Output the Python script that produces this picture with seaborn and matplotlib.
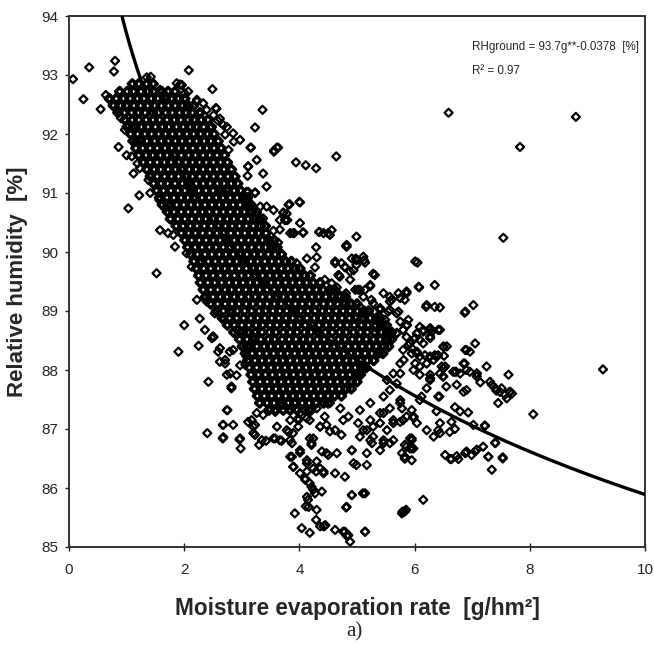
import numpy as np
import pandas as pd
import matplotlib
matplotlib.use("Agg")
import matplotlib.pyplot as plt
import seaborn as sns

# ---------------- data ----------------
# dense core of the cloud: one RH level per row, with the g values on that row
core_rh = [92.85, 92.72, 92.6, 92.48, 92.36, 92.24, 92.12, 92.0, 91.88, 91.76,
           91.64, 91.52, 91.4, 91.28, 91.16, 91.04, 90.92, 90.8, 90.68, 90.56,
           90.44, 90.32, 90.2, 90.08, 89.96, 89.84, 89.72, 89.6, 89.48, 89.36,
           89.24, 89.12, 89.0, 88.88, 88.76, 88.64, 88.52, 88.4, 88.28, 88.16,
           88.04, 87.92, 87.8, 87.68, 87.56, 87.44, 87.32]
core_g = [
    [1.1, 1.21, 1.35, 1.46],
    [0.88, 1.01, 1.12, 1.25, 1.37, 1.47, 1.61, 1.72, 1.84],
    [0.7, 0.82, 0.95, 1.06, 1.19, 1.3, 1.43, 1.54, 1.67, 1.78, 1.9, 2.01],
    [0.77, 0.9, 1.0, 1.13, 1.24, 1.37, 1.49, 1.6, 1.73, 1.84, 1.97, 2.07, 2.16],
    [0.85, 0.96, 1.09, 1.2, 1.32, 1.45, 1.55, 1.68, 1.79, 1.92, 2.03, 2.14, 2.27],
    [0.97, 1.1, 1.21, 1.34, 1.46, 1.57, 1.7, 1.83, 1.94, 2.07, 2.17, 2.3, 2.41],
    [1.01, 1.14, 1.26, 1.37, 1.5, 1.62, 1.73, 1.87, 1.98, 2.11, 2.21, 2.34, 2.47],
    [1.07, 1.19, 1.32, 1.43, 1.56, 1.67, 1.8, 1.91, 2.05, 2.16, 2.29, 2.4, 2.52],
    [1.11, 1.24, 1.35, 1.49, 1.6, 1.72, 1.85, 1.96, 2.1, 2.21, 2.35, 2.46, 2.59],
    [1.16, 1.28, 1.41, 1.53, 1.67, 1.78, 1.91, 2.02, 2.15, 2.28, 2.39, 2.52, 2.64],
    [1.21, 1.34, 1.45, 1.59, 1.7, 1.83, 1.95, 2.08, 2.19, 2.33, 2.44, 2.57, 2.7],
    [1.29, 1.41, 1.53, 1.66, 1.77, 1.9, 2.03, 2.14, 2.27, 2.38, 2.51, 2.63, 2.75],
    [1.35, 1.48, 1.59, 1.72, 1.85, 1.96, 2.09, 2.2, 2.33, 2.45, 2.57, 2.69, 2.82],
    [1.41, 1.53, 1.66, 1.78, 1.9, 2.03, 2.14, 2.27, 2.39, 2.51, 2.63, 2.76, 2.88],
    [1.47, 1.6, 1.71, 1.84, 1.97, 2.08, 2.21, 2.33, 2.45, 2.58, 2.69, 2.82, 2.93],
    [1.52, 1.64, 1.77, 1.89, 2.01, 2.14, 2.25, 2.38, 2.5, 2.63, 2.74, 2.87, 2.98],
    [1.57, 1.7, 1.82, 1.95, 2.06, 2.19, 2.31, 2.43, 2.56, 2.67, 2.8, 2.92, 3.04, 3.1],
    [1.62, 1.75, 1.87, 1.99, 2.12, 2.23, 2.36, 2.48, 2.61, 2.72, 2.85, 2.97, 3.09, 3.16],
    [1.71, 1.82, 1.95, 2.07, 2.19, 2.32, 2.43, 2.56, 2.68, 2.8, 2.93, 3.04, 3.17, 3.25],
    [1.76, 1.89, 2.01, 2.13, 2.26, 2.37, 2.5, 2.62, 2.75, 2.86, 2.99, 3.11, 3.22, 3.31],
    [1.86, 1.98, 2.11, 2.22, 2.35, 2.47, 2.59, 2.72, 2.83, 2.96, 3.08, 3.2, 3.32, 3.41],
    [1.95, 2.08, 2.19, 2.32, 2.44, 2.57, 2.68, 2.81, 2.93, 3.05, 3.18, 3.29, 3.42],
    [2.01, 2.13, 2.26, 2.38, 2.51, 2.62, 2.75, 2.87, 2.99, 3.12, 3.23, 3.36, 3.47, 3.56],
    [2.06, 2.19, 2.31, 2.44, 2.55, 2.68, 2.8, 2.93, 3.05, 3.17, 3.3, 3.41, 3.53, 3.61],
    [2.11, 2.23, 2.36, 2.48, 2.61, 2.72, 2.85, 2.97, 3.09, 3.22, 3.33, 3.46, 3.58, 3.69],
    [2.17, 2.29, 2.42, 2.54, 2.66, 2.79, 2.91, 3.03, 3.16, 3.27, 3.4, 3.52, 3.64, 3.76, 3.86],
    [2.21, 2.34, 2.46, 2.59, 2.7, 2.83, 2.95, 3.08, 3.2, 3.31, 3.44, 3.56, 3.69, 3.8, 3.92, 4.01],
    [2.25, 2.38, 2.5, 2.63, 2.75, 2.87, 3.0, 3.11, 3.24, 3.36, 3.49, 3.6, 3.73, 3.85, 3.97, 4.09, 4.19],
    [2.28, 2.41, 2.53, 2.65, 2.78, 2.9, 3.02, 3.15, 3.26, 3.39, 3.51, 3.63, 3.76, 3.88, 4.0, 4.13, 4.24, 4.36],
    [2.33, 2.46, 2.58, 2.71, 2.82, 2.95, 3.07, 3.2, 3.31, 3.44, 3.56, 3.69, 3.8, 3.93, 4.05, 4.17, 4.3, 4.41, 4.53, 4.61],
    [2.37, 2.5, 2.63, 2.74, 2.87, 2.99, 3.12, 3.23, 3.36, 3.48, 3.61, 3.72, 3.85, 3.97, 4.09, 4.22, 4.33, 4.46, 4.58, 4.7, 4.8],
    [2.46, 2.58, 2.71, 2.83, 2.95, 3.08, 3.19, 3.32, 3.44, 3.57, 3.68, 3.81, 3.93, 4.05, 4.18, 4.29, 4.42, 4.54, 4.66, 4.79, 4.9, 5.0],
    [2.56, 2.68, 2.81, 2.92, 3.05, 3.17, 3.3, 3.41, 3.54, 3.66, 3.78, 3.91, 4.02, 4.15, 4.27, 4.4, 4.51, 4.64, 4.76, 4.88, 5.01, 5.12, 5.2],
    [2.66, 2.79, 2.91, 3.03, 3.16, 3.27, 3.4, 3.52, 3.64, 3.77, 3.88, 4.01, 4.13, 4.26, 4.37, 4.5, 4.62, 4.74, 4.87, 4.98, 5.11, 5.23, 5.34, 5.41],
    [2.75, 2.87, 3.0, 3.12, 3.25, 3.36, 3.49, 3.61, 3.73, 3.86, 3.97, 4.1, 4.22, 4.34, 4.47, 4.58, 4.71, 4.83, 4.95, 5.08, 5.19, 5.32, 5.43, 5.51],
    [2.86, 2.98, 3.11, 3.23, 3.35, 3.48, 3.59, 3.72, 3.84, 3.96, 4.09, 4.2, 4.33, 4.45, 4.57, 4.7, 4.81, 4.94, 5.06, 5.18, 5.31, 5.42, 5.53, 5.6],
    [2.96, 3.09, 3.21, 3.33, 3.46, 3.57, 3.7, 3.82, 3.94, 4.07, 4.18, 4.31, 4.43, 4.55, 4.68, 4.79, 4.92, 5.04, 5.16, 5.29, 5.4, 5.52, 5.6],
    [3.01, 3.14, 3.26, 3.39, 3.5, 3.63, 3.75, 3.87, 4.0, 4.11, 4.24, 4.36, 4.48, 4.61, 4.72, 4.85, 4.97, 5.09, 5.22, 5.33, 5.46, 5.55],
    [3.06, 3.18, 3.31, 3.43, 3.55, 3.68, 3.79, 3.92, 4.04, 4.16, 4.29, 4.4, 4.53, 4.65, 4.77, 4.9, 5.01, 5.14, 5.26, 5.37, 5.45],
    [3.1, 3.23, 3.35, 3.47, 3.6, 3.71, 3.84, 3.96, 4.08, 4.21, 4.32, 4.45, 4.57, 4.69, 4.82, 4.93, 5.06, 5.18, 5.29],
    [3.13, 3.26, 3.38, 3.51, 3.62, 3.75, 3.87, 3.99, 4.12, 4.23, 4.36, 4.48, 4.6, 4.73, 4.84, 4.97, 5.08, 5.16],
    [3.16, 3.29, 3.41, 3.53, 3.66, 3.77, 3.9, 4.02, 4.14, 4.27, 4.38, 4.51, 4.63, 4.75, 4.88, 4.99, 5.06],
    [3.19, 3.32, 3.44, 3.57, 3.68, 3.81, 3.93, 4.05, 4.18, 4.29, 4.42, 4.54, 4.66, 4.79, 4.9, 5.0],
    [3.22, 3.35, 3.47, 3.59, 3.72, 3.83, 3.96, 4.08, 4.2, 4.33, 4.44, 4.57, 4.69, 4.81, 4.9],
    [3.27, 3.39, 3.52, 3.64, 3.76, 3.89, 4.0, 4.13, 4.25, 4.37, 4.5, 4.61, 4.73],
    [3.31, 3.44, 3.56, 3.68, 3.81, 3.92, 4.05, 4.17, 4.29, 4.42, 4.5],
    [3.47, 3.59, 3.72, 3.84, 3.96, 4.09, 4.2],
]

# upper / left edge of the cloud
upper_g = [0.07, 0.25, 0.35, 0.55, 0.80, 0.78, 0.64, 0.71, 0.76, 1.03, 1.22, 1.52, 2.08, 2.49,
           3.36, 3.23, 3.16, 3.56, 3.63, 3.94, 4.11, 4.29, 4.0, 3.81, 4.34, 4.50, 4.29, 4.06,
           3.91, 3.08, 3.23, 1.42, 1.93, 2.07, 2.22, 2.55, 2.29, 2.45, 2.58, 2.68, 2.71, 3.15,
           3.61, 3.56, 2.86, 2.77, 3.11, 3.10, 3.43, 3.26, 3.72, 3.75, 4.01, 3.37,
           0.83, 0.90, 0.86, 1.00, 1.12, 1.23, 0.97, 1.09, 1.17, 1.09, 1.19, 1.38, 1.46, 1.41,
           1.57, 1.70, 1.67, 1.58, 1.72, 1.81, 1.84, 2.04, 2.13, 2.27, 2.22, 2.39, 2.27, 2.36,
           2.51, 1.35, 1.58, 1.70, 1.87, 1.96, 2.01, 2.22, 2.33, 2.39, 2.51, 2.56, 2.62, 2.74,
           2.85, 2.97, 3.11, 3.26, 3.37, 3.43, 3.32, 3.55, 3.66, 3.78, 3.84,
           2.68, 3.11, 3.23, 3.83, 4.01, 3.72, 3.79, 4.35, 4.07, 3.55, 3.66, 3.89, 3.49, 3.63,
           4.82, 4.99, 5.12, 5.28, 4.62, 4.79, 4.68, 4.30, 4.13, 4.27, 4.01, 3.95, 4.44, 4.65,
           4.81, 4.97, 5.14, 5.05, 5.28, 4.97, 5.14, 5.31, 5.31, 4.62, 4.82,
           2.36, 2.50, 2.62, 2.79, 2.91, 3.08, 3.20, 3.03, 2.53, 2.68, 2.82]
upper_rh = [92.93, 92.59, 93.13, 92.42, 93.24, 93.06, 92.66, 92.58, 92.50, 90.74, 90.96, 89.64, 93.08, 92.76,
            92.41, 92.11, 91.77, 91.72, 91.77, 91.52, 91.47, 91.42, 90.85, 90.80, 90.34, 90.32, 90.08, 90.33,
            90.32, 91.02, 91.00, 92.97, 92.84, 92.72, 92.55, 92.44, 92.36, 92.10, 92.23, 92.15, 91.99, 91.77,
            91.77, 91.70, 91.87, 91.73, 91.45, 91.29, 90.77, 90.66, 90.66, 90.54, 90.49, 90.57,
            92.41, 92.27, 91.78, 91.64, 91.33, 91.42, 92.07, 92.10, 91.87, 91.62, 91.50, 91.22, 91.16, 91.00,
            90.88, 90.82, 90.74, 90.37, 90.32, 90.29, 90.09, 89.98, 89.75, 89.81, 89.19, 89.16, 88.87, 88.68,
            88.56, 92.96, 92.75, 92.63, 92.86, 92.83, 92.69, 92.58, 92.52, 92.41, 92.32, 92.43, 92.26, 92.12,
            92.01, 91.90, 91.45, 91.56, 91.33, 91.11, 90.77, 90.71, 90.54, 90.65, 90.32,
            91.02, 91.02, 91.01, 90.81, 90.84, 90.67, 90.54, 90.34, 90.33, 90.36, 90.38, 90.32, 90.15, 90.16,
            90.12, 89.86, 89.86, 89.63, 89.84, 89.74, 89.61, 89.91, 89.89, 89.74, 89.72, 89.81, 89.53, 89.40,
            89.30, 89.36, 89.36, 89.07, 89.13, 88.91, 88.93, 88.99, 88.73, 89.19, 89.07,
            89.21, 88.57, 88.37, 88.31, 88.68, 88.40, 88.57, 88.65, 88.96, 88.85, 88.96]

# right part of the cloud and outliers
right_g = [6.59, 8.80, 7.83, 4.64, 7.54, 6.01, 6.05, 4.99, 4.82, 4.42, 4.56, 4.73, 4.91, 5.11, 4.99, 4.94,
           5.31, 5.23, 5.46, 5.57, 5.72, 5.86, 5.83, 6.07, 6.35, 6.21, 6.35, 6.88, 7.02, 5.69, 5.54, 5.49,
           5.75, 5.89, 6.09, 6.27, 5.80, 5.40, 5.25, 5.05, 4.88, 4.70, 4.56,
           4.81, 4.53, 4.62, 4.79, 4.98, 5.14, 4.88, 4.68, 5.23, 6.08, 5.86, 5.75, 5.57, 5.60, 5.11, 5.02,
           4.70, 6.20, 6.44, 6.87, 5.87, 5.40, 5.57, 5.72, 5.69, 6.04, 6.15, 6.27, 6.44, 6.01, 6.27, 6.15,
           6.50, 6.35, 6.27, 6.04, 5.95, 6.90, 7.05, 6.96, 6.87, 7.25, 7.63, 7.08, 6.70, 6.53, 6.44, 6.27,
           6.09, 5.98,
           9.27, 8.06, 6.15, 5.79, 5.85, 5.14, 4.88, 4.82, 4.76, 4.62, 4.44, 5.10, 4.91, 4.81, 7.34, 7.53,
           7.28, 7.40, 7.19, 7.08, 6.90, 6.73, 6.62, 6.53, 6.99, 7.05, 5.95, 7.22,
           7.08, 6.90, 6.85, 6.88, 6.72, 6.73, 6.85, 6.90, 6.55, 6.49, 6.50, 6.51, 6.41, 6.56, 6.33, 6.21,
           6.09, 6.21, 6.27, 6.41, 6.70, 7.34, 7.42, 7.51, 7.57, 7.65, 7.69,
           5.86, 5.69, 5.86, 6.04, 6.15, 6.30, 6.41, 6.27, 6.09, 5.92, 5.95, 6.09, 5.80, 5.75, 5.63, 5.75,
           5.52, 5.69, 5.57, 5.46, 5.75, 5.78, 5.98, 5.80, 5.63, 5.46, 5.40, 5.52, 5.23, 5.28, 5.11, 5.05,
           5.23, 5.46, 5.57, 5.86, 5.92, 5.83, 5.95, 4.91, 5.17, 4.94, 4.62, 4.79, 4.42, 4.50, 4.65,
           6.79, 6.93, 6.64, 6.70, 6.44, 6.41,
           6.67, 6.79, 6.96, 7.08, 7.14, 7.31, 7.40, 7.48, 7.66, 7.60, 7.45, 7.02, 7.22, 7.40, 6.64, 6.76,
           6.88, 7.28, 7.53, 6.50, 6.38, 6.18, 6.04, 5.89, 5.81, 6.01, 6.27, 6.50, 6.47, 6.12, 6.38, 6.61,
           6.44, 6.21, 6.33, 5.92, 5.83, 5.98, 5.83, 5.98, 6.43]
right_rh = [92.36, 92.29, 91.78, 91.62, 90.24, 89.84, 89.82, 90.26, 90.09, 90.32, 90.37, 89.81, 89.89, 89.92, 89.78, 89.69,
            89.61, 89.44, 89.30, 89.16, 89.30, 89.30, 89.19, 89.41, 89.44, 89.10, 89.07, 88.99, 89.10, 88.96, 88.99, 88.85,
            88.82, 88.85, 88.73, 88.71, 88.68, 89.05, 89.19, 89.36, 89.53, 89.58, 89.47,
            90.10, 90.29, 89.81, 89.75, 89.89, 89.82, 89.67, 89.61, 89.42, 89.40, 89.33, 89.22, 89.24, 89.19, 89.24, 89.36,
            89.27, 89.07, 89.06, 88.97, 88.76, 89.02, 89.02, 88.99, 88.63, 88.62, 88.65, 88.68, 88.68, 88.54, 88.57, 88.45,
            88.39, 88.25, 88.23, 88.31, 88.37, 88.34, 88.45, 88.31, 88.11, 88.06, 87.92, 87.94, 87.97, 88.06, 87.94, 87.92,
            87.92, 88.00,
            88.01, 87.25, 85.80, 85.60, 85.63, 85.26, 85.09, 85.19, 85.26, 85.29, 85.36, 85.91, 85.88, 85.67, 86.31, 86.52,
            86.53, 86.77, 86.70, 86.65, 86.62, 86.54, 86.49, 86.56, 86.56, 86.62, 86.47, 87.05,
            87.94, 88.00, 88.11, 88.34, 87.97, 87.75, 87.63, 87.66, 87.72, 87.89, 88.03, 88.24, 88.25, 88.40, 88.17, 88.11,
            88.06, 87.69, 87.86, 87.55, 87.37, 87.75, 87.65, 87.69, 87.58, 87.63, 87.60,
            88.76, 88.62, 88.56, 88.62, 88.68, 88.65, 88.68, 88.54, 88.51, 88.45, 88.28, 88.23, 88.34, 88.11, 87.94, 87.94,
            87.83, 87.77, 87.66, 87.55, 87.49, 87.35, 87.21, 87.15, 87.15, 87.27, 87.10, 86.98, 87.15, 87.04, 86.98, 86.87,
            86.81, 86.76, 86.76, 86.70, 86.67, 86.53, 86.81, 86.64, 86.59, 86.42, 86.25, 86.19, 86.25, 86.56, 86.59,
            87.30, 87.28, 87.12, 87.00, 87.10, 86.98,
            87.97, 87.94, 87.97, 87.89, 87.79, 87.80, 87.69, 87.63, 87.63, 87.52, 87.44, 87.07, 87.06, 86.76, 86.49, 86.49,
            86.59, 86.53, 86.50, 88.40, 88.23, 88.25, 88.28, 88.42, 88.17, 88.11, 87.83, 87.89, 88.06, 87.55, 87.30, 86.95,
            86.93, 86.98, 86.87, 86.84, 86.73, 86.67, 86.50, 87.19, 87.55]

# lower part of the cloud
lower_g = [2.00, 1.90, 2.25, 2.42, 2.40, 2.67, 2.67, 2.85, 2.75, 2.96, 2.98, 2.82, 2.48, 2.59, 2.71, 2.62,
           2.80, 2.91, 2.97, 2.85, 3.08, 3.11, 3.20, 3.23, 3.30, 3.42, 3.58, 3.69, 3.78, 3.84, 3.89, 3.98,
           4.18, 4.36, 4.44, 4.24, 4.21, 4.39, 4.47, 3.87, 3.89, 4.01, 4.13, 4.24, 4.10, 4.21, 4.29, 4.42,
           4.13, 4.27, 4.39, 3.92, 4.04, 4.18, 4.11, 4.30, 4.42, 4.29, 4.15,
           2.71, 2.82, 2.74, 2.68, 2.68, 2.97, 2.74, 3.06, 3.23, 3.20, 3.35, 3.55, 3.66, 3.84, 3.98, 3.81,
           3.61, 3.87, 4.01, 4.18, 4.21, 3.84, 3.90, 4.01, 4.13, 4.30, 4.36, 4.10, 4.18, 4.24, 4.13, 4.16,
           4.36, 4.45, 4.79, 4.85, 4.82, 4.91, 5.14, 5.14,
           4.36, 4.47, 4.53, 4.62, 4.76, 4.73, 4.91, 4.99, 5.17, 5.02, 5.17, 5.28, 5.26, 5.40, 5.46, 5.63,
           5.75, 5.63, 5.86, 5.98, 5.95, 5.83, 5.95, 5.78, 6.04, 5.83, 5.78,
           3.17, 3.26, 3.37, 3.49, 3.58, 3.72, 3.87, 4.01, 4.16, 4.30, 3.98, 4.13, 4.53, 4.71, 4.85, 5.05,
           5.23, 5.40, 5.57, 5.75, 5.95, 6.09]
lower_rh = [88.76, 88.31, 88.41, 87.80, 86.93, 86.84, 87.07, 87.07, 87.32, 86.82, 86.67, 87.69, 88.54, 88.31, 88.17, 88.14,
            87.94, 87.91, 88.08, 88.34, 88.23, 87.12, 87.04, 86.90, 86.73, 86.80, 86.84, 86.80, 86.98, 87.15, 86.93, 87.04,
            87.15, 87.04, 87.21, 86.84, 86.76, 86.62, 86.59, 86.53, 86.36, 86.60, 86.47, 86.33, 86.14, 86.02, 86.28, 86.28,
            86.28, 85.91, 85.94, 85.57, 85.32, 85.24, 85.69, 85.63, 85.35, 85.46, 85.80,
            88.11, 87.72, 87.32, 87.07, 86.86, 86.84, 87.92, 88.09, 87.07, 86.93, 86.81, 86.84, 86.81, 86.81, 87.18, 86.95,
            87.04, 86.76, 86.64, 86.84, 86.73, 86.53, 86.36, 86.25, 86.42, 86.45, 86.33, 86.16, 86.08, 85.97, 85.85, 85.68,
            85.35, 85.37, 85.26, 85.20, 85.68, 85.88, 85.91, 85.26,
            87.04, 87.07, 86.96, 86.98, 87.15, 86.90, 86.64, 86.39, 86.39, 87.10, 86.98, 86.87, 86.76, 86.64, 86.81, 86.81,
            87.12, 87.10, 87.21, 87.21, 86.84, 86.50, 86.67, 86.59, 87.10, 85.60, 85.57,
            87.15, 87.27, 87.24, 87.35, 87.29, 87.41, 87.38, 87.27, 87.32, 87.35, 87.15, 87.18, 87.44, 87.35, 87.21, 87.32,
            87.44, 87.27, 87.35, 87.44, 87.32, 87.49]

# fitted curve printed on the chart: RH = a * g ** b
fit_a = 93.7
fit_b = -0.0378
fit_g_range = [0.9, 10.0]

x_ticks = [0, 2, 4, 6, 8, 10]
y_ticks = [85, 86, 87, 88, 89, 90, 91, 92, 93, 94]

# ---------------- build tables ----------------
core_gv, core_rv = [], []
for rh, gs in zip(core_rh, core_g):
    core_gv += gs
    core_rv += [rh] * len(gs)
core_df = pd.DataFrame({"g": core_gv, "rh": core_rv})
edge_df = pd.DataFrame({"g": upper_g + right_g + lower_g,
                        "rh": upper_rh + right_rh + lower_rh})

curve_g = np.linspace(fit_g_range[0], fit_g_range[1], 400)
curve = pd.DataFrame({"g": curve_g, "rh": fit_a * curve_g ** fit_b})

# ---------------- plot ----------------
sns.set_style("ticks")
plt.rcParams["font.family"] = ["Liberation Sans", "DejaVu Sans"]

fig = plt.figure(figsize=(6.54, 6.64), dpi=100)
ax = fig.add_axes([69 / 654, 1 - 547 / 664, 576 / 654, 531 / 664])

sns.scatterplot(data=core_df, x="g", y="rh", ax=ax, marker="D", s=17,
                color="black", facecolor="none", edgecolor="black",
                linewidth=2.5, legend=False, zorder=2)
sns.scatterplot(data=edge_df, x="g", y="rh", ax=ax, marker="D", s=17,
                color="black", facecolor="none", edgecolor="black",
                linewidth=1.6, legend=False, zorder=2)
sns.lineplot(data=curve, x="g", y="rh", ax=ax, color="black", linewidth=2.4,
             legend=False, zorder=3)

ax.set_xlim(0, 10)
ax.set_ylim(85, 94)
ax.set_xticks(x_ticks)
ax.set_yticks(y_ticks)
ax.tick_params(axis="y", direction="out", length=3, width=1, pad=4.5,
               labelsize=11, color="#222222")
ax.tick_params(axis="x", direction="inout", length=5.5, width=1, pad=9,
               labelsize=11, color="#222222")
for side in ["left", "bottom", "top", "right"]:
    ax.spines[side].set_visible(True)
    ax.spines[side].set_color("#333333")
    ax.spines[side].set_linewidth(1.4)

ax.set_xlabel("Moisture evaporation rate  [g/hm²]", fontsize=16.3, fontweight="bold")
ax.set_ylabel("Relative humidity  [%]", fontsize=16, fontweight="bold")
ax.xaxis.set_label_coords(0.5, -0.094)
ax.yaxis.set_label_coords(-0.072, 0.5)

fig.text(472 / 654, 1 - 47 / 664, "RHground = 93.7g**-0.0378  [%]",
         fontsize=8.4, va="center", ha="left")
fig.text(472 / 654, 1 - 71 / 664, "R² = 0.97", fontsize=8.4, va="center", ha="left")
fig.text(354 / 654, 1 - 632 / 664, "a)", fontsize=15, va="center", ha="center",
         family=["Liberation Serif", "DejaVu Serif"])

fig.savefig("out.png", dpi=100)
